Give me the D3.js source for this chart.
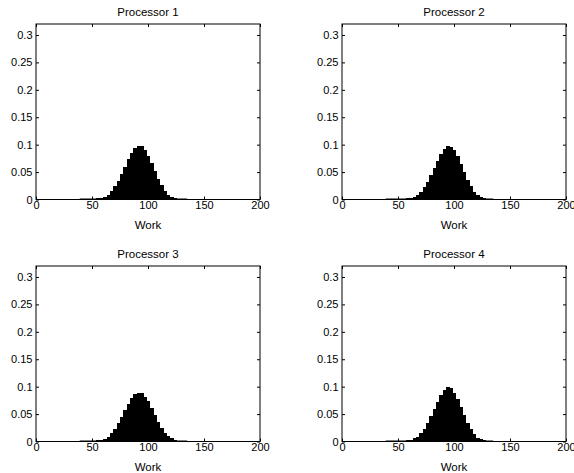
<!DOCTYPE html>
<html>
<head>
<meta charset="utf-8">
<script src="https://cdn.jsdelivr.net/npm/d3@7"></script>
<style>
  html, body { margin: 0; padding: 0; background: #fff; }
  svg { display: block; }
  text { font-family: "Liberation Sans", Arial, Helvetica, sans-serif; fill: #000; }
</style>
</head>
<body>
<svg id="chart" width="574" height="473"></svg>
<script>
// Histogram bin centres (bin width 3) and per-processor work probabilities
const binWidth = 3;
const binCenters = [40.5, 43.5, 46.5, 49.5, 52.5, 55.5, 58.5, 61.5, 64.5, 67.5, 70.5, 73.5,
  76.5, 79.5, 82.5, 85.5, 88.5, 91.5, 94.5, 97.5, 100.5, 103.5, 106.5, 109.5,
  112.5, 115.5, 118.5, 121.5, 124.5, 127.5, 130.5, 133.5];

const processor1 = [0.0003, 0.0005, 0.0008, 0.001, 0.0015, 0.002, 0.003, 0.005, 0.009, 0.016, 0.024, 0.034,
  0.047, 0.060, 0.073, 0.085, 0.093, 0.098, 0.097, 0.090, 0.080, 0.066, 0.052, 0.038,
  0.026, 0.016, 0.009, 0.005, 0.003, 0.001, 0.0005, 0];

const processor2 = [0, 0.0003, 0.0005, 0.0008, 0.001, 0.0015, 0.002, 0.003, 0.005, 0.008, 0.014, 0.022,
  0.032, 0.044, 0.058, 0.071, 0.083, 0.092, 0.098, 0.096, 0.090, 0.079, 0.065, 0.050,
  0.036, 0.024, 0.014, 0.008, 0.004, 0.002, 0.001, 0.0005];

const processor3 = [0.0004, 0.0006, 0.0008, 0.001, 0.0015, 0.002, 0.003, 0.005, 0.009, 0.015, 0.023, 0.033,
  0.045, 0.057, 0.069, 0.080, 0.087, 0.089, 0.088, 0.082, 0.073, 0.061, 0.048, 0.036,
  0.025, 0.016, 0.010, 0.006, 0.003, 0.0015, 0.0007, 0.0003];

const processor4 = [0.0002, 0.0004, 0.0005, 0.0007, 0.001, 0.0016, 0.0025, 0.0035, 0.006, 0.009, 0.015, 0.023,
  0.033, 0.046, 0.059, 0.072, 0.084, 0.094, 0.099, 0.097, 0.089, 0.077, 0.063, 0.048,
  0.034, 0.022, 0.013, 0.007, 0.004, 0.002, 0.001, 0.0004];

const titles = ["Processor 1", "Processor 2", "Processor 3", "Processor 4"];
const seriesList = [processor1, processor2, processor3, processor4];
const xTicks = [0, 50, 100, 150, 200];
const yTicks = [0, 0.05, 0.1, 0.15, 0.2, 0.25, 0.3];
const xLabel = "Work";

// Layout: 2x2 grid of plot boxes
const plotW = 224, plotH = 175.5;
const originX = [36, 342];
const originY = [24, 266];
const tickLen = 3;
const tickFont = 11, labelFont = 11.5;

const svg = d3.select("#chart");

titles.forEach((title, i) => {
  const col = i % 2, row = Math.floor(i / 2);
  const g = svg.append("g")
    .attr("transform", `translate(${originX[col]},${originY[row]})`);

  const x = d3.scaleLinear().domain([0, 200]).range([0, plotW]);
  const y = d3.scaleLinear().domain([0, 0.32]).range([plotH, 0]);

  const bins = binCenters.map((c, k) => ({ c, p: seriesList[i][k] }));

  // bars (solid, no gaps between adjacent bins)
  g.append("g").attr("shape-rendering", "crispEdges").selectAll("rect")
    .data(bins.filter(d => d.p > 0))
    .join("rect")
    .attr("x", d => x(d.c - binWidth / 2))
    .attr("width", d => x(d.c + binWidth / 2) - x(d.c - binWidth / 2))
    .attr("y", d => y(d.p))
    .attr("height", d => y(0) - y(d.p))
    .attr("fill", "#000");

  // thick baseline under the histogram
  g.append("line")
    .attr("x1", x(binCenters[0] - binWidth / 2))
    .attr("x2", x(binCenters[binCenters.length - 1] + binWidth / 2))
    .attr("y1", y(0) - 0.5).attr("y2", y(0) - 0.5)
    .attr("stroke", "#000").attr("stroke-width", 1);

  // axes with inward ticks on all four sides
  const fmtY = d => d === 0 ? "0" : d3.format("")(d);
  const axB = g.append("g").attr("transform", `translate(0,${plotH})`)
    .call(d3.axisBottom(x).tickValues(xTicks).tickSizeInner(-tickLen).tickSizeOuter(0).tickPadding(2).tickFormat(d3.format("d")));
  const axT = g.append("g")
    .call(d3.axisTop(x).tickValues(xTicks).tickSizeInner(-tickLen).tickSizeOuter(0).tickFormat(""));
  const axL = g.append("g")
    .call(d3.axisLeft(y).tickValues(yTicks).tickSizeInner(-tickLen).tickSizeOuter(0).tickPadding(3.5).tickFormat(fmtY));
  const axR = g.append("g").attr("transform", `translate(${plotW},0)`)
    .call(d3.axisRight(y).tickValues(yTicks).tickSizeInner(-tickLen).tickSizeOuter(0).tickFormat(""));

  [axB, axT, axL, axR].forEach(a => {
    a.select(".domain").remove();
    a.selectAll("line").attr("stroke", "#000").attr("stroke-width", 1);
    a.selectAll("text").attr("font-size", tickFont).attr("font-family", null).attr("fill", "#000");
  });
  axB.selectAll("text").attr("dy", "0.71em");

  // plot box
  g.append("rect")
    .attr("x", 0).attr("y", 0)
    .attr("width", plotW).attr("height", plotH)
    .attr("fill", "none").attr("stroke", "#000").attr("stroke-width", 1);

  // title and x label
  g.append("text")
    .attr("x", plotW / 2).attr("y", -8)
    .attr("text-anchor", "middle")
    .attr("font-size", labelFont)
    .text(title);
  g.append("text")
    .attr("x", plotW / 2).attr("y", plotH + 29)
    .attr("text-anchor", "middle")
    .attr("font-size", labelFont)
    .text(xLabel);
});
</script>
</body>
</html>
